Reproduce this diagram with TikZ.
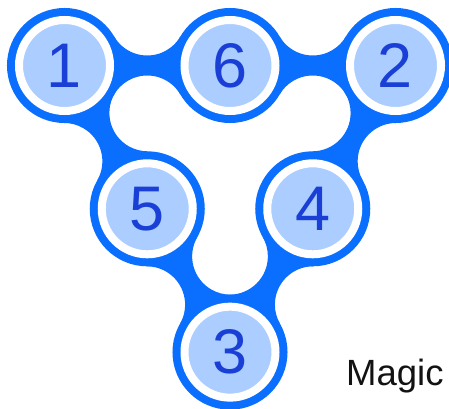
\documentclass[tikz,border=0pt]{standalone}
\usepackage{fontspec}
\setmainfont{Liberation Sans}
\definecolor{ringblue}{HTML}{0A6FFF}
\definecolor{lightblue}{HTML}{ABCDFF}
\definecolor{digitblue}{HTML}{1A3FD6}
\tikzset{
  x=1pt, y=1pt,
  band/.pic={
    \fill[ringblue] (49.66,29.0) arc[start angle=210.28,end angle=329.72,radius=38.33]
      -- (115.84,-29.0) arc[start angle=30.28,end angle=149.72,radius=38.33] -- cycle;
  },
  numcircle/.style={circle, inner sep=0pt, outer sep=0pt, minimum size=91pt,
    fill=lightblue, draw=white, line width=8pt,
    preaction={draw=ringblue, line width=24pt},
    text=digitblue, font=\fontsize{63}{63}\selectfont},
}
\begin{document}
\begin{tikzpicture}
\useasboundingbox (0,0) rectangle (449,408);
\clip (0,0) rectangle (449,408);
\coordinate (c1) at (64.5,342.5);
\coordinate (c6) at (230,342.5);
\coordinate (c2) at (395.5,342.5);
\coordinate (c5) at (147.25,199.2);
\coordinate (c4) at (312.75,199.2);
\coordinate (c3) at (230,55.85);
% bands between neighbouring circles
\begin{scope}[shift={(c1)}, rotate=0] \pic[transform shape] {band}; \end{scope}
\begin{scope}[shift={(c6)}, rotate=0] \pic[transform shape] {band}; \end{scope}
\begin{scope}[shift={(c2)}, rotate=240] \pic[transform shape] {band}; \end{scope}
\begin{scope}[shift={(c4)}, rotate=240] \pic[transform shape] {band}; \end{scope}
\begin{scope}[shift={(c3)}, rotate=120] \pic[transform shape] {band}; \end{scope}
\begin{scope}[shift={(c5)}, rotate=120] \pic[transform shape] {band}; \end{scope}
% circles
\node[numcircle] (n1) at (c1) {1};
\node[numcircle] (n6) at (c6) {6};
\node[numcircle] (n2) at (c2) {2};
\node[numcircle] (n5) at (c5) {5};
\node[numcircle] (n4) at (c4) {4};
\node[numcircle] (n3) at (c3) {3};
\node[anchor=base west, inner sep=0pt, text=black!93, font=\fontsize{36.5}{36.5}\selectfont] (magic) at (346,23) {Magic};
\end{tikzpicture}
\end{document}
